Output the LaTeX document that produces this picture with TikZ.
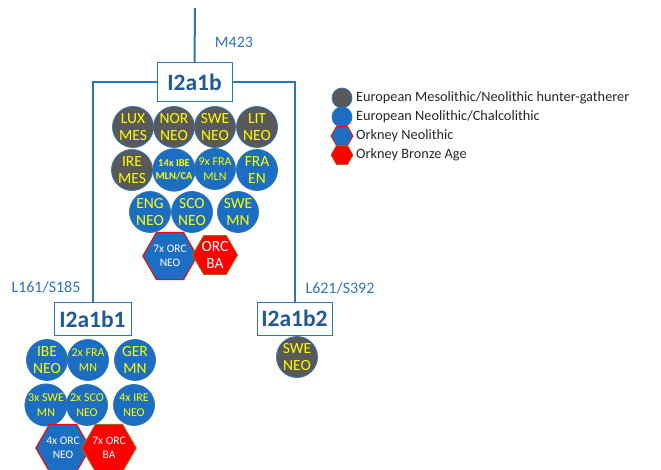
\documentclass[tikz,border=0pt]{standalone}
\usepackage{fontspec}
\setmainfont{Carlito}
\usetikzlibrary{shapes.geometric}
\definecolor{lineblue}{HTML}{2E75B6}
\definecolor{darkblue}{HTML}{1F5A96}
\definecolor{fillblue}{HTML}{1C6EC2}
\definecolor{fillgrey}{HTML}{595959}
\definecolor{hexred}{HTML}{FF0000}
\definecolor{hexbrown}{HTML}{9C6A1E}
\definecolor{txtyellow}{HTML}{FFFF00}
\definecolor{legblack}{HTML}{262626}
\tikzset{
  conn/.style={draw=lineblue, line width=2pt},
  hbox/.style={draw=lineblue, line width=0.9pt, fill=white, text=darkblue, font=\fontsize{23.5}{25}\selectfont\bfseries, inner sep=0pt},
  mlabel/.style={text=lineblue, font=\fontsize{16}{18}\selectfont, inner sep=0pt},
  smp/.style={circle, minimum size=41pt, inner sep=0pt, draw=lineblue, line width=0.8pt, text=txtyellow, align=center, font=\fontsize{15.5}{17.5}\selectfont},
  hg/.style={smp, fill=fillgrey},
  nc/.style={smp, fill=fillblue},
  small/.style={font=\fontsize{12}{14.5}\selectfont},
  tiny/.style={font=\fontsize{10.5}{13.5}\selectfont\bfseries},
  hexo/.style={regular polygon, regular polygon sides=6, minimum size=44pt, inner sep=0pt, line width=1pt, align=center, text=white},
  orcneo/.style={hexo, fill=fillblue, draw=hexred, font=\fontsize{11.5}{14.5}\selectfont},
  orcba/.style={hexo, fill=hexred, draw=hexbrown, font=\fontsize{15.5}{17.5}\selectfont},
  legtxt/.style={anchor=west, inner sep=0pt, font=\fontsize{14.3}{16}\selectfont, text=legblack},
}
\begin{document}
\begin{tikzpicture}[x=1pt,y=-1pt]
\useasboundingbox (0,0) rectangle (661,470);
% tree structure
\coordinate (top) at (195,8);
\node[hbox, minimum width=75pt, minimum height=39pt] (b) at (194.5,82) {I2a1b};
\node[hbox, minimum width=77pt, minimum height=33pt] (b1) at (92.5,319) {I2a1b1};
\node[hbox, minimum width=75pt, minimum height=33pt] (b2) at (294.5,318.5) {I2a1b2};
\draw[conn] (top) -- (b.north);
\draw[conn] (b.west) -| (b1.north);
\draw[conn] (b.east) -| (b2.north);
\node[mlabel] (m423) at (234,42) {M423};
\node[mlabel] (l161) at (46,287) {L161/S185};
\node[mlabel] (l621) at (340,288) {L621/S392};
% I2a1b samples
\node[hg] (lux) at (133,127) {LUX\\MES};
\node[hg] (nor) at (174,127) {NOR\\NEO};
\node[hg] (swe1) at (215,127) {SWE\\NEO};
\node[hg] (lit) at (257,127) {LIT\\NEO};
\node[hg] (ire) at (132,170) {IRE\\MES};
\node[nc, tiny] (ibe) at (174,170) {14x IBE\\MLN/CA};
\node[nc, small] (fra9) at (215,169) {9x FRA\\MLN};
\node[nc] (fraen) at (257,170) {FRA\\EN};
\node[nc] (eng) at (150,212) {ENG\\NEO};
\node[nc] (sco) at (192,212) {SCO\\NEO};
\node[nc] (swemn) at (238,212) {SWE\\MN};
\node[orcneo] (orc7) at (170,256) {7x ORC\\NEO};
\node[orcba] (orcba) at (215,255) {ORC\\BA};
% I2a1b1 samples
\node[nc] (ibeneo) at (47,360) {IBE\\NEO};
\node[nc, small] (fra2) at (88,360) {2x FRA\\MN};
\node[nc] (ger) at (135,360) {GER\\MN};
\node[nc, small] (swe3) at (46,405) {3x SWE\\MN};
\node[nc, small] (sco2) at (87,405) {2x SCO\\NEO};
\node[nc, small] (ire4) at (134,405) {4x IRE\\NEO};
\node[orcneo] (orc4) at (63,448) {4x ORC\\NEO};
\node[orcba, font=\fontsize{11.5}{14.5}\selectfont] (orc7ba) at (109,448) {7x ORC\\BA};
% I2a1b2 sample
\node[hg] (swe2) at (297,357) {SWE\\NEO};
% legend
\node[circle, minimum size=20pt, inner sep=0pt, fill=fillgrey, draw=lineblue, line width=0.7pt] (lg1) at (342,98) {};
\node[circle, minimum size=20pt, inner sep=0pt, fill=fillblue, draw=lineblue, line width=0.7pt] (lg2) at (342,117) {};
\node[regular polygon, regular polygon sides=6, minimum size=22pt, inner sep=0pt, fill=fillblue, draw=hexred, line width=0.8pt] (lg3) at (342,136) {};
\node[regular polygon, regular polygon sides=6, minimum size=22pt, inner sep=0pt, fill=hexred, draw=hexbrown, line width=0.8pt] (lg4) at (342,155) {};
\node[legtxt] (lt1) at (356,98) {European Mesolithic/Neolithic hunter-gatherer};
\node[legtxt] (lt2) at (356,117) {European Neolithic/Chalcolithic};
\node[legtxt] (lt3) at (356,136) {Orkney Neolithic};
\node[legtxt] (lt4) at (356,155) {Orkney Bronze Age};
\end{tikzpicture}
\end{document}
